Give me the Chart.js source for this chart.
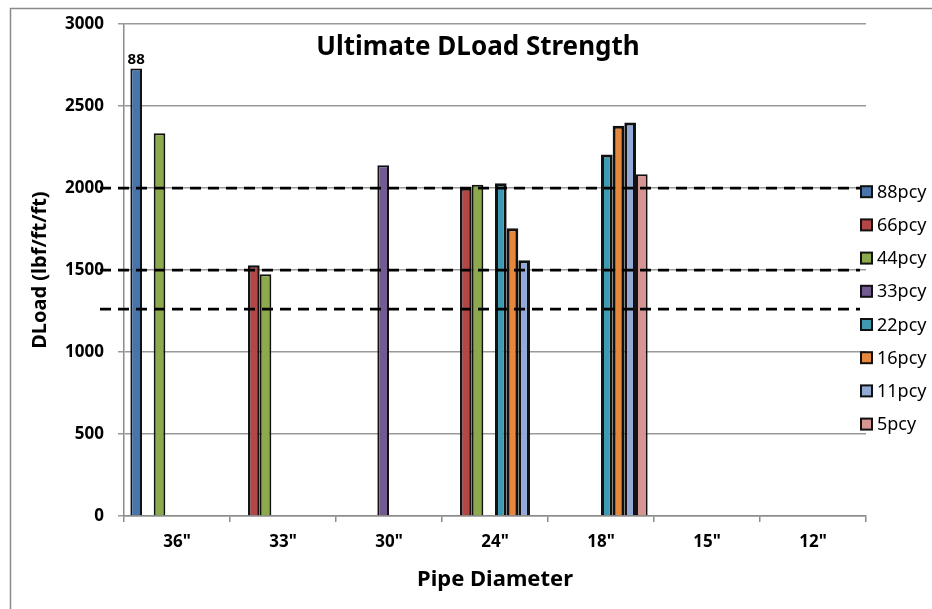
<!DOCTYPE html>
<html><head><meta charset="utf-8">
<script src="https://cdn.jsdelivr.net/npm/chart.js@4.4.0/dist/chart.umd.min.js"></script>
<style>html,body{margin:0;padding:0;background:#fff;}canvas{display:block;}</style>
</head><body>
<canvas id="c" width="932" height="609"></canvas>
<script>
const categories = ['36"', '33"', '30"', '24"', '18"', '15"', '12"'];
const seriesNames = ['88pcy', '66pcy', '44pcy', '33pcy', '22pcy', '16pcy', '11pcy', '5pcy'];
const p88 = [2730, null, null, null, null, null, null];
const p66 = [null, 1530, null, 2000, null, null, null];
const p44 = [2335, 1475, null, 2020, null, null, null];
const p33 = [null, null, 2140, null, null, null, null];
const p22 = [null, null, null, 2030, 2205, null, null];
const p16 = [null, null, null, 1755, 2380, null, null];
const p11 = [null, null, null, 1560, 2400, null, null];
const p5  = [null, null, null, null, 2085, null, null];
const referenceLines = [2000, 1500, 1260];
const barLabelText = '88';
const titleText = 'Ultimate DLoad Strength';
const xTitle = 'Pipe Diameter';
const yTitle = 'DLoad (lbf/ft/ft)';

const seriesValues = [p88, p66, p44, p33, p22, p16, p11, p5];
const seriesColors = ['#4874AC', '#B24745', '#8DA94E', '#735A93', '#3E9AB2', '#E5873D', '#94AAD6', '#D69593'];
const seriesBorderWidths = [2, 2.5, 2, 2, 3, 3, 3, 2];
const FONT = "'Noto Sans', 'DejaVu Sans', sans-serif";

const decor = {
  id: 'decor',
  beforeDraw(chart) {
    const ctx = chart.ctx;
    ctx.save();
    ctx.fillStyle = '#fff';
    ctx.fillRect(0, 0, chart.width, chart.height);
    ctx.strokeStyle = '#8a8a8a';
    ctx.lineWidth = 1.5;
    ctx.beginPath();
    ctx.moveTo(10.5, chart.height + 2);
    ctx.lineTo(10.5, 8.5);
    ctx.lineTo(chart.width + 2, 8.5);
    ctx.stroke();
    ctx.restore();
  },
  afterDatasetsDraw(chart) {
    const ctx = chart.ctx;
    const y = chart.scales.y;
    const area = chart.chartArea;
    ctx.save();
    ctx.strokeStyle = '#000';
    ctx.lineWidth = 2.75;
    ctx.setLineDash([11, 7]);
    referenceLines.forEach(v => {
      const py = Math.round(y.getPixelForValue(v));
      ctx.beginPath();
      ctx.moveTo(area.left - 24, py);
      ctx.lineTo(area.right - 6, py);
      ctx.stroke();
    });
    ctx.setLineDash([]);
    const bar = chart.getDatasetMeta(0).data[0];
    ctx.fillStyle = '#000';
    ctx.font = 'bold 15px ' + FONT;
    ctx.textAlign = 'center';
    ctx.textBaseline = 'bottom';
    ctx.fillText(barLabelText, bar.x, bar.y - 1);
    ctx.restore();
  },
  afterDraw(chart) {
    const ctx = chart.ctx;
    ctx.save();
    ctx.fillStyle = '#000';
    ctx.font = 'bold 26px ' + FONT;
    ctx.textAlign = 'center';
    ctx.textBaseline = 'middle';
    ctx.fillText(titleText, 478, 48);
    ctx.font = '18px ' + FONT;
    ctx.textAlign = 'left';
    seriesNames.forEach((n, i) => {
      const cy = 191.7 + i * 33.2;
      ctx.fillStyle = seriesColors[i];
      ctx.fillRect(861, cy - 5.5, 11, 11);
      ctx.strokeStyle = '#111';
      ctx.lineWidth = 2;
      ctx.strokeRect(861, cy - 5.5, 11, 11);
      ctx.fillStyle = '#000';
      ctx.fillText(n, 877, cy + 1);
    });
    ctx.restore();
  }
};

new Chart(document.getElementById('c'), {
  type: 'bar',
  data: {
    labels: categories,
    datasets: seriesNames.map((n, i) => ({
      label: n,
      data: seriesValues[i],
      backgroundColor: seriesColors[i],
      borderColor: '#111',
      borderWidth: seriesBorderWidths[i]
    }))
  },
  options: {
    responsive: false,
    animation: false,
    devicePixelRatio: 1,
    layout: { padding: { left: 0, top: 22, right: 66, bottom: 0 } },
    datasets: { bar: { categoryPercentage: 0.88, barPercentage: 1 } },
    plugins: { legend: { display: false }, tooltip: { enabled: false }, title: { display: false } },
    scales: {
      x: {
        offset: true,
        grid: { display: true, offset: true, drawOnChartArea: false, drawTicks: true, tickLength: 6, color: '#8c8c8c', lineWidth: 1.5 },
        border: { color: '#8c8c8c', width: 1.5 },
        ticks: { font: { family: FONT, size: 17, weight: 'bold' }, color: '#000', padding: 10, maxRotation: 0 },
        title: { display: true, text: xTitle, color: '#000', font: { family: FONT, size: 22, weight: 'bold' }, padding: { top: 0, bottom: 16 } },
        afterFit(s) { s.height = 93; }
      },
      y: {
        min: 0, max: 3000,
        grid: { color: '#999', lineWidth: 1.5, tickLength: 6 },
        border: { color: '#8c8c8c', width: 1.5 },
        ticks: { stepSize: 500, font: { family: FONT, size: 17, weight: 'bold' }, color: '#000', padding: 14, callback: v => String(v) },
        title: { display: true, text: yTitle, color: '#000', font: { family: FONT, size: 20, weight: 'bold' }, padding: { top: 28, bottom: 0 } },
        afterFit(s) { s.width = 124; }
      }
    }
  },
  plugins: [decor]
});
</script>
</body></html>
